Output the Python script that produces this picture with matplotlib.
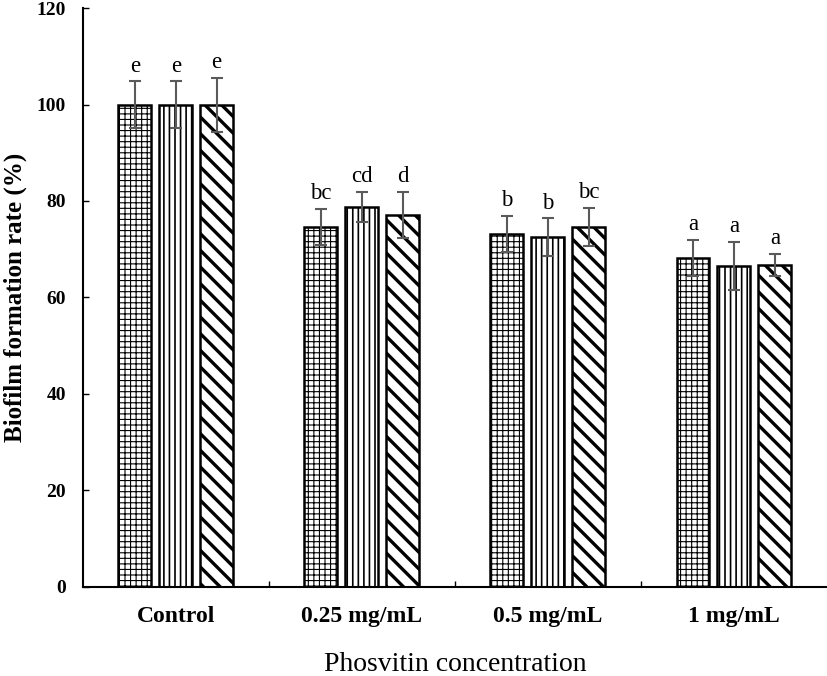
import matplotlib
matplotlib.use("Agg")
import matplotlib.pyplot as plt
import numpy as np

# Data
groups = ["Control", "0.25 mg/mL", "0.5 mg/mL", "1 mg/mL"]
grid_vals = [100.0, 74.6, 73.2, 68.2]
vert_vals = [100.0, 78.8, 72.5, 66.5]
diag_vals = [100.0, 77.1, 74.6, 66.7]
grid_err = [4.8, 3.7, 3.7, 3.7]
vert_err = [4.8, 3.1, 3.9, 5.0]
diag_err = [5.6, 4.8, 3.9, 2.3]
grid_letters = ["e", "bc", "b", "a"]
vert_letters = ["e", "cd", "b", "a"]
diag_letters = ["e", "d", "bc", "a"]

plt.rcParams["font.family"] = ["Liberation Serif", "DejaVu Serif"]
plt.rcParams["hatch.color"] = "black"

fig = plt.figure(figsize=(8.27, 6.76), dpi=100)
ax = fig.add_axes([0.1, 0.132, 0.9, 0.856])

x = np.arange(len(groups))
w = 0.177
step = 0.22

series = [
    (grid_vals, grid_err, grid_letters, "+++", 0.8),
    (vert_vals, vert_err, vert_letters, "|||", 1.2),
    (diag_vals, diag_err, diag_letters, "\\\\", 2.4),
]

for i, (vals, errs, letters, hatch, hlw) in enumerate(series):
    pos = x + (i - 1) * step
    with plt.rc_context({"hatch.linewidth": hlw}):
        bars = ax.bar(pos, vals, width=w, color="white", edgecolor="black",
                      linewidth=1.8, hatch=hatch, zorder=2)
        for b in bars:
            b._hatch_linewidth = hlw
    ax.errorbar(pos, vals, yerr=errs, fmt="none", ecolor="#5a5a5a",
                elinewidth=1.5, capsize=4, capthick=1.5, zorder=3)
    for p, v, e, t in zip(pos, vals, errs, letters):
        ax.text(p, v + e + 1.0, t, ha="center", va="bottom", fontsize=16.5)

ax.set_ylim(0, 120)
ax.set_xlim(-0.5, 3.5)
ax.set_yticks(range(0, 121, 20))
ax.tick_params(axis="y", direction="in", length=4, width=1, labelsize=14, pad=12)
for lab in ax.get_yticklabels():
    lab.set_fontweight("bold")

ax.set_xticks([0.5, 1.5, 2.5])
ax.set_xticklabels([])
ax.tick_params(axis="x", which="major", direction="in", length=4, width=1)
ax.set_xticks(x, minor=True)
ax.set_xticklabels(groups, minor=True, fontsize=17, fontweight="bold")
ax.tick_params(axis="x", which="minor", length=0, pad=14)

ax.spines["top"].set_visible(False)
ax.spines["right"].set_visible(False)
ax.spines["left"].set_linewidth(1.5)
ax.spines["bottom"].set_linewidth(1.5)

ax.set_ylabel("Biofilm formation rate (%)", fontsize=18, fontweight="bold", labelpad=7)
ax.set_xlabel("Phosvitin concentration", fontsize=20, labelpad=18)

fig.savefig("out.png", dpi=100)
